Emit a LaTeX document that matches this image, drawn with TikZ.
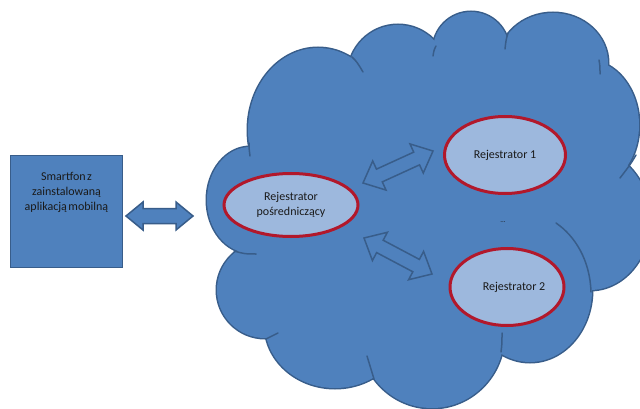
\documentclass[tikz,border=0pt]{standalone}
\usepackage{fontspec}
\setmainfont{Carlito}
\usetikzlibrary{calc,shapes.geometric}
\definecolor{cloudblue}{HTML}{4F81BD}
\definecolor{cloudline}{HTML}{385D8A}
\definecolor{ellfill}{HTML}{9DB8DD}
\definecolor{ellline}{HTML}{B2182B}
\definecolor{txt}{HTML}{1A1A1A}
% block double arrow between two named coordinates
% #1 style, #2 start, #3 end, #4 name, #5 shaft half width, #6 head half width, #7 head length
\newcommand\blockarrow[7]{%
  \coordinate (#4-b1) at ($(#2)!#7!(#3)$);
  \coordinate (#4-b2) at ($(#3)!#7!(#2)$);
  \filldraw[#1] (#2) -- ($(#4-b1)!#6!90:(#3)$) -- ($(#4-b1)!#5!90:(#3)$)
    -- ($(#4-b2)!#5!-90:(#2)$) -- ($(#4-b2)!#6!-90:(#2)$) -- (#3)
    -- ($(#4-b2)!#6!90:(#2)$) -- ($(#4-b2)!#5!90:(#2)$)
    -- ($(#4-b1)!#5!-90:(#3)$) -- ($(#4-b1)!#6!-90:(#3)$) -- cycle;
}
\tikzset{
  phonebox/.style={rectangle, draw=cloudline, line width=1.5pt, fill=cloudblue,
    minimum width=112pt, minimum height=112pt, inner sep=0pt},
  phonetext/.style={align=center, text=txt, inner sep=0pt,
    font=\fontsize{12}{15}\selectfont},
  regell/.style={ellipse, draw=ellline, line width=3pt, fill=ellfill, inner sep=0pt,
    align=center, text=txt, font=\fontsize{12}{15}\selectfont},
  dotstyle/.style={text=txt, inner sep=0pt, font=\fontsize{7}{8}\selectfont},
  blockarr/.style={draw=cloudline, fill=cloudblue, line width=1.5pt, line join=miter},
  cloudedge/.style={draw=cloudline, line width=3pt},
  cloudtail/.style={draw=cloudline, line width=1.5pt, line cap=round},
}
\begin{document}
\begin{tikzpicture}[x=1pt, y=-1pt]
  \useasboundingbox (0,0) rectangle (640,409);
  \fill[white] (0,0) rectangle (640,409);

  % ---------------- cloud ----------------
  \def\bumps{250/200/43pt/53pt, 318/130/70pt/82pt, 398/75/50pt/50pt,
    471/50/38pt/38pt, 553/63/55pt/50pt, 587/125/52pt/65pt, 590/220/60pt/70pt,
    530/290/62pt/72pt, 432/335/72pt/73pt, 335/325/70pt/63pt, 265/290/48pt/48pt}
  \foreach \cx/\cy/\rx/\ry in \bumps
    \draw[cloudedge] (\cx,\cy) ellipse [x radius=\rx, y radius=\ry];
  \foreach \cx/\cy/\rx/\ry in \bumps
    \fill[cloudblue] (\cx,\cy) ellipse [x radius=\rx, y radius=\ry];
  \fill[cloudblue] (256,152) -- (354,63) -- (435,54) -- (507,40) -- (595,67)
    -- (628,158) -- (588,285) -- (500,344) -- (376,372) -- (270,332) -- (244,250) -- cycle;
  \fill[cloudblue] (430,210) ellipse [x radius=150pt, y radius=120pt];
  % inner tails of the cloud bumps
  \draw[cloudtail] (249,143) .. controls (249,148) .. (250,156);
  \draw[cloudtail] (352,57) .. controls (357,62) .. (363,72);
  \draw[cloudtail] (436,46) .. controls (434,50) .. (433,56);
  \draw[cloudtail] (508,33) .. controls (506,40) .. (505,49);
  \draw[cloudtail] (599,60) .. controls (600,66) .. (600,74);
  \draw[cloudtail] (636,155) .. controls (630,165) .. (620,178);
  \draw[cloudtail] (556,223) .. controls (575,236) and (590,260) .. (591,292);
  \draw[cloudtail] (501,352) .. controls (502,344) .. (502,333);
  \draw[cloudtail] (374,379) .. controls (370,368) .. (367,356);
  \draw[cloudtail] (266,339) .. controls (272,336) .. (278,333);
  \draw[cloudtail] (234,251) .. controls (245,254) .. (256,254);

  % ---------------- smartphone box ----------------
  \node[phonebox] (phone) at (66.5,211.5) {};
  \node[phonetext] (phonetxt) at (66.5,192)
    {Smartfon\hspace{1.5pt}z\\zainstalowaną\\aplikacją\hspace{1.5pt}mobilną};

  % ---------------- registrars ----------------
  \node[regell, minimum width=134pt, minimum height=63pt] (mid) at (291,205)
    {Rejestrator\\pośredniczący};
  \node[regell, minimum width=121pt, minimum height=77pt] (r1) at (505,155)
    {Rejestrator 1};
  \node[regell, minimum width=114pt, minimum height=77pt] (r2) at (507,287)
    {\hspace*{14pt}Rejestrator 2};
  \node[dotstyle] (dots) at (503,222) {...};

  % ---------------- block arrows ----------------
  \coordinate (la1) at (126,216);
  \coordinate (la2) at (193,216);
  \blockarrow{blockarr}{la1}{la2}{la}{7.5pt}{14pt}{17pt}
  \coordinate (ua1) at (363,183);
  \coordinate (ua2) at (433,151);
  \blockarrow{blockarr}{ua1}{ua2}{ua}{7pt}{16pt}{18pt}
  \coordinate (da1) at (364,238);
  \coordinate (da2) at (432,274);
  \blockarrow{blockarr}{da1}{da2}{da}{7pt}{16pt}{18pt}
\end{tikzpicture}
\end{document}
